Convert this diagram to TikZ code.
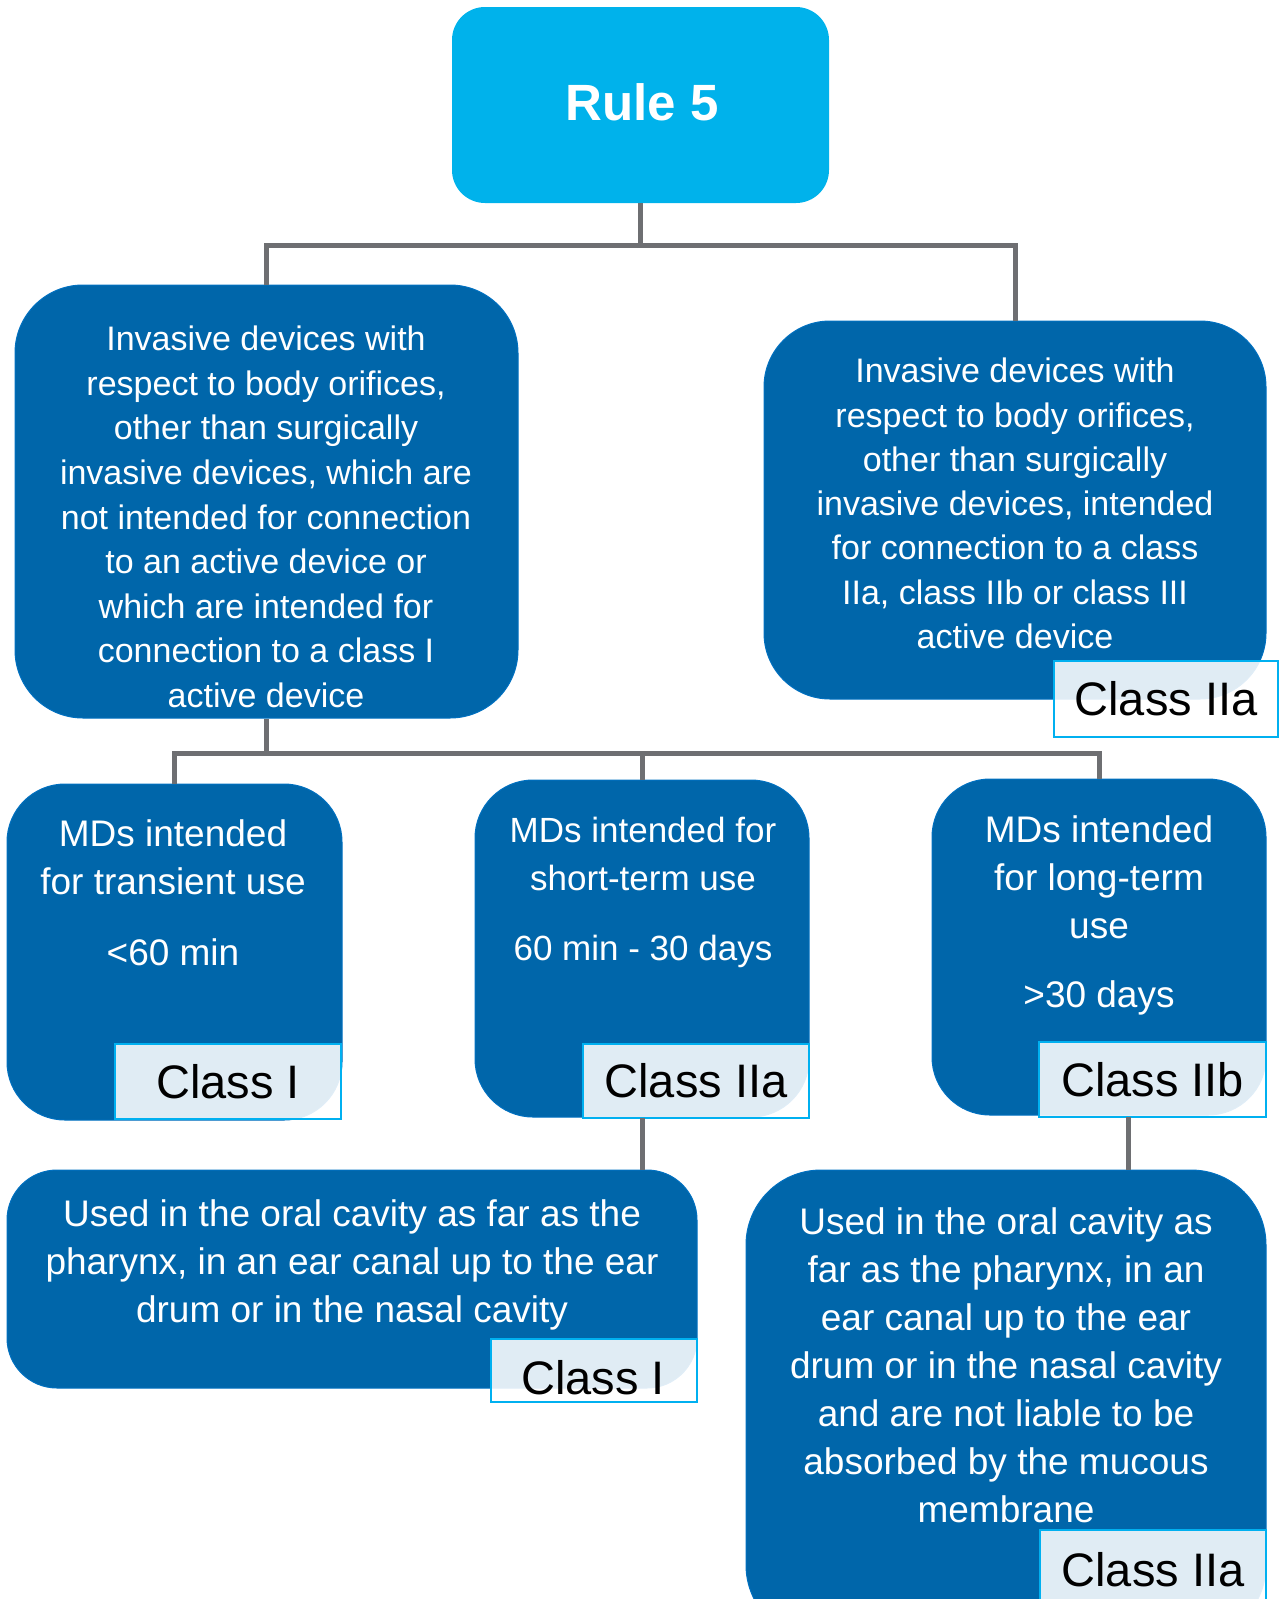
\documentclass[tikz,border=0pt]{standalone}
\usepackage{fontspec}
\setmainfont{Liberation Sans}
\definecolor{boxblue}{RGB}{0,102,170}
\definecolor{boxedge}{RGB}{0,112,192}
\definecolor{ruleblue}{RGB}{0,178,235}
\definecolor{cyanedge}{RGB}{0,176,240}
\definecolor{linkgray}{RGB}{110,111,114}
\begin{document}
\begin{tikzpicture}[x=1pt,y=-1pt,
  box/.style={draw=boxedge, line width=1pt, fill=boxblue, inner sep=0pt},
  txt/.style={text=white, align=center, inner sep=0pt},
  cls/.style={draw=cyanedge, line width=2pt, fill=white, fill opacity=0.88,
    text opacity=1, text=black, inner sep=0pt, font=\fontsize{47}{50}\selectfont},
  link/.style={draw=linkgray, line width=5pt}
]
\useasboundingbox (0,0) rectangle (1282,1599);
\clip (0,0) rectangle (1282,1599);

% top node
\node[fill=ruleblue, rounded corners=33pt, minimum width=377pt, minimum height=196pt, inner sep=0pt]
  (rule) at (640.5,105) {};
\node[txt, font=\fontsize{51}{56}\selectfont\bfseries] (ruletxt) at (642,102) {Rule 5};

% first level
\node[box, rounded corners=68pt, minimum width=503pt, minimum height=433pt] (inv1) at (266.5,501.5) {};
\node[txt, font=\fontsize{34}{44.6}\selectfont] (inv1txt) at (266,517)
  {Invasive devices with\\respect to body orifices,\\other than surgically\\invasive devices, which are\\not intended for connection\\to an active device or\\which are intended for\\connection to a class I\\active device};

\node[box, rounded corners=66pt, minimum width=502pt, minimum height=378pt] (inv2) at (1015,510) {};
\node[txt, font=\fontsize{34}{44.3}\selectfont] (inv2txt) at (1015,503.5)
  {Invasive devices with\\respect to body orifices,\\other than surgically\\invasive devices, intended\\for connection to a class\\IIa, class IIb or class III\\active device};
\node[cls, minimum width=224pt, minimum height=76pt] (cls0) at (1166,699) {Class IIa};

% second level
\node[box, rounded corners=58pt, minimum width=335pt, minimum height=336pt] (mdA) at (174.5,952) {};
\node[txt, font=\fontsize{37}{48}\selectfont] (mdAtxt) at (173,893)
  {MDs intended\\for transient use\\[23pt]<60 min};
\node[cls, minimum width=226pt, minimum height=75pt] (clsA) at (228,1081.5) {Class I};

\node[box, rounded corners=58pt, minimum width=334pt, minimum height=337pt] (mdB) at (642,948.5) {};
\node[txt, font=\fontsize{35}{48}\selectfont] (mdBtxt) at (643,892)
  {MDs intended for\\short-term use\\[22pt]60 min - 30 days};
\node[cls, minimum width=226pt, minimum height=74pt] (clsB) at (696,1081) {Class IIa};

\node[box, rounded corners=58pt, minimum width=334pt, minimum height=336pt] (mdC) at (1099,947) {};
\node[txt, font=\fontsize{37}{48}\selectfont] (mdCtxt) at (1099,915)
  {MDs intended\\for long-term\\use\\[21pt]>30 days};
\node[cls, minimum width=227pt, minimum height=75pt] (clsC) at (1152.5,1079.5) {Class IIb};

% third level
\node[box, rounded corners=50pt, minimum width=690pt, minimum height=218pt] (useD) at (352,1279) {};
\node[txt, font=\fontsize{37}{48}\selectfont] (useDtxt) at (352,1265)
  {Used in the oral cavity as far as the\\pharynx, in an ear canal up to the ear\\drum or in the nasal cavity};
\node[cls, minimum width=206pt, minimum height=63pt] (clsD) at (594,1370.5) {};
\node[text=black, inner sep=0pt, font=\fontsize{47}{50}\selectfont] (clsDtxt) at (593,1378) {Class I};

\node[box, rounded corners=75pt, minimum width=520pt, minimum height=470pt] (useE) at (1006,1405) {};
\node[txt, font=\fontsize{37}{48}\selectfont] (useEtxt) at (1006,1365.5)
  {Used in the oral cavity as\\far as the pharynx, in an\\ear canal up to the ear\\drum or in the nasal cavity\\and are not liable to be\\absorbed by the mucous\\membrane};
\node[cls, minimum width=226pt, minimum height=80pt] (clsE) at (1153,1570) {Class IIa};

% connectors
\coordinate (bus1) at (640.5,245);
\coordinate (bus2) at (266.5,753);
\coordinate (tapC) at (1128,1117);
\draw[link] (rule.south) -- (bus1);
\draw[link] (inv1.north) |- (bus1) -| (inv2.north);
\draw[link] (inv1.south) -- (bus2);
\draw[link] (mdA.north) |- (bus2) -| (mdC.north);
\draw[link] (mdB.north) -- (mdB.north |- bus2);
\draw[link] (mdB.south) -- (mdB.south |- useD.north);
\draw[link] (tapC) -- (tapC |- useE.north);
\end{tikzpicture}
\end{document}
